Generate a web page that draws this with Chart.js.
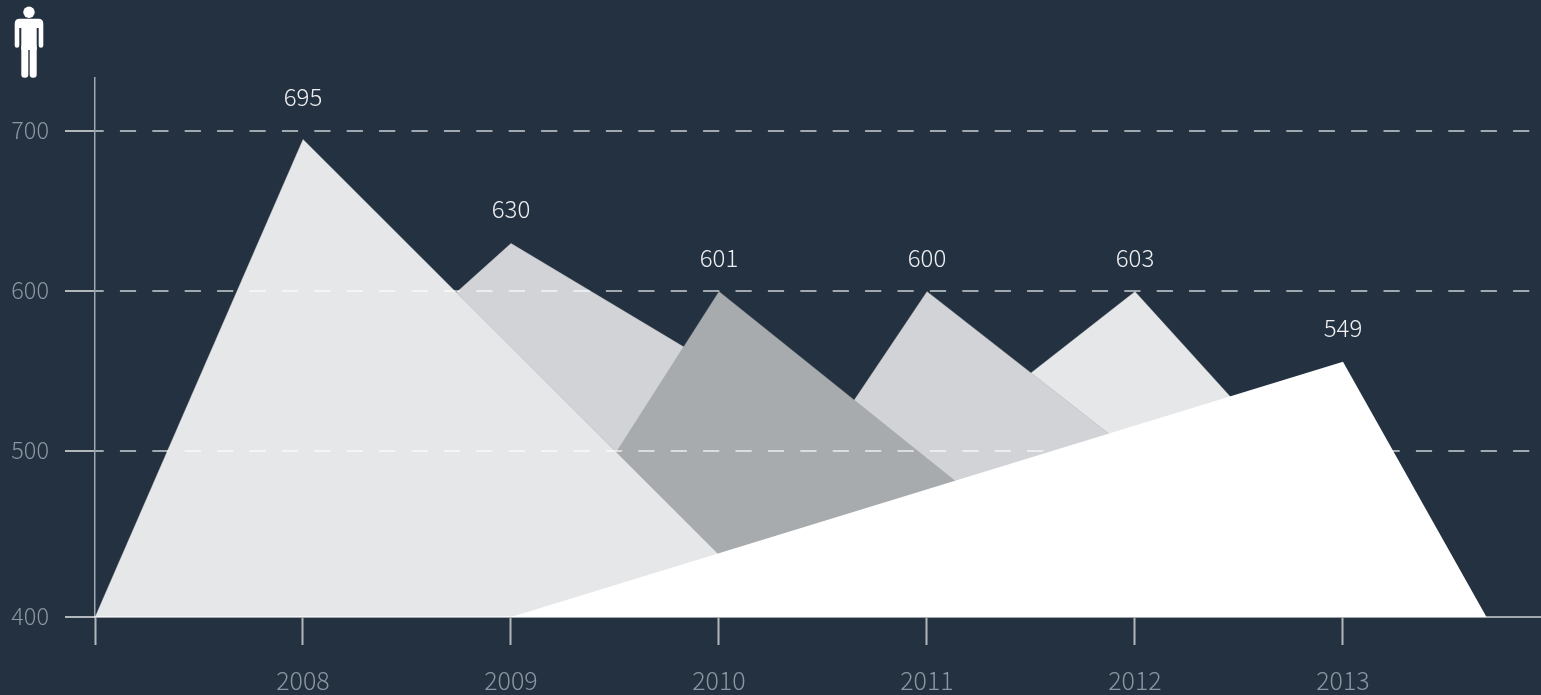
<!DOCTYPE html>
<html lang="en">
<head>
    <meta charset="UTF-8">
    <title>Triangles by year</title>
    <script src="https://cdn.jsdelivr.net/npm/chart.js"></script>
    <style>
        body {
            margin: 0;
            background-color: #233140;
            overflow: hidden;
        }

        #wrap {
            position: relative;
            width: 1541px;
            height: 695px;
        }

        /* Person pictogram above the value axis */
        #person {
            position: absolute;
            left: 0;
            top: 0;
        }
    </style>
</head>
<body>
    <div id="wrap">
        <canvas id="chart" width="1541" height="695"></canvas>
        <svg id="person" width="60" height="80" viewBox="0 0 60 80" fill="#fff">
            <circle cx="29" cy="12.3" r="5.7"/>
            <path d="M19.7 18.7H38.3Q43.3 18.7 43.3 23.7V45.4a2.3 2.3 0 0 1-4.6 0V28H36.7V50H21.3V28H19.3V45.4a2.3 2.3 0 0 1-4.6 0V23.7Q14.7 18.7 19.7 18.7z"/>
            <rect x="21.3" y="44" width="7" height="33.7" rx="3.2"/>
            <rect x="29.7" y="44" width="7" height="33.7" rx="3.2"/>
        </svg>
    </div>

    <script>
        const years = [2008, 2009, 2010, 2011, 2012, 2013];
        const peakValues = [695, 630, 600, 600, 600, 556];    // height the peak is drawn at
        const shownValues = [695, 630, 601, 600, 603, 549];   // number printed over the peak
        const baseStart = [2007, 2007, 2009, 2009.95, 2010, 2009];
        const baseEnd = [2010.3, 2012, 2011.95, 2013, 2013.42, 2013.69];
        const fillColors = ['#e6e7e9', '#d1d3d6', '#a7abae', '#d1d3d6', '#e6e7e9', '#ffffff'];
        const stacking = [1, 3, 2, 4, 5, 0];   // lower is drawn on top

        const axisFloor = 396.6;
        const axisCeil = 733.3;
        const axisStart = 2007;
        const axisEnd = 2013.952;
        const valueTicks = [axisFloor, 500, 600, 700];
        const valueTickLabels = ['400', '500', '600', '700'];

        const fontFamily = "'Noto Sans CJK SC Light', 'Noto Sans CJK SC', 'Open Sans', sans-serif";
        const mutedText = '#8c96a0';
        const lineColor = 'rgba(255, 255, 255, 0.58)';

        const triangles = years.map((year, i) => ({
            label: String(year),
            data: [
                { x: baseStart[i], y: axisFloor },
                { x: year, y: peakValues[i] },
                { x: baseEnd[i], y: axisFloor }
            ],
            backgroundColor: fillColors[i],
            borderColor: 'rgba(150, 155, 160, 0.5)',
            borderWidth: i === 5 ? 0 : 0.6,
            fill: 'start',
            tension: 0,
            pointRadius: 0,
            order: stacking[i]
        }));

        // Prints the values over each peak
        const peakLabels = {
            id: 'peakLabels',
            afterDraw(chart) {
                const { ctx, scales } = chart;
                ctx.save();
                ctx.font = '300 24px ' + fontFamily;
                ctx.fillStyle = '#eef0f2';
                ctx.textAlign = 'center';
                ctx.textBaseline = 'middle';
                years.forEach((year, i) => {
                    const gap = i === 0 ? 42 : 34;
                    ctx.fillText(String(shownValues[i]), scales.x.getPixelForValue(year),
                        scales.y.getPixelForValue(peakValues[i]) - gap);
                });
                ctx.restore();
            }
        };

        new Chart(document.getElementById('chart'), {
            type: 'line',
            data: { datasets: triangles },
            plugins: [peakLabels],
            options: {
                responsive: false,
                animation: false,
                layout: { padding: { top: 78, left: 0, right: 0, bottom: 0 } },
                plugins: {
                    legend: { display: false },
                    tooltip: { enabled: false }
                },
                scales: {
                    x: {
                        type: 'linear',
                        min: axisStart,
                        max: axisEnd,
                        afterBuildTicks(scale) {
                            scale.ticks = [axisStart].concat(years).map(value => ({ value }));
                        },
                        afterFit(scale) {
                            scale.height = 78;
                        },
                        border: { color: lineColor, width: 2, z: 1 },
                        grid: {
                            drawOnChartArea: false,
                            tickLength: 28,
                            tickWidth: 2,
                            tickColor: 'rgba(255, 255, 255, 0.65)',
                            z: 1
                        },
                        ticks: {
                            autoSkip: false,
                            maxRotation: 0,
                            padding: 20,
                            color: mutedText,
                            font: { family: fontFamily, size: 25, weight: '300' },
                            callback: value => years.includes(value) ? String(value) : ''
                        }
                    },
                    y: {
                        min: axisFloor,
                        max: axisCeil,
                        afterBuildTicks(scale) {
                            scale.ticks = valueTicks.map(value => ({ value }));
                        },
                        afterFit(scale) {
                            scale.width = 95;
                        },
                        border: {
                            color: lineColor,
                            width: 1.5,
                            dash: [16.2, 16.2],
                            dashOffset: 8,
                            z: 1
                        },
                        grid: {
                            color: ctx => ctx.tick && ctx.tick.value === axisFloor ? 'transparent' : lineColor,
                            lineWidth: 2,
                            tickColor: 'rgba(255, 255, 255, 0.65)',
                            tickBorderDash: [],
                            tickLength: 30,
                            tickWidth: 2,
                            z: 1
                        },
                        ticks: {
                            padding: 16,
                            labelOffset: -1,
                            color: mutedText,
                            font: { family: fontFamily, size: 23.5, weight: '300' },
                            callback: value => valueTickLabels[valueTicks.indexOf(value)]
                        }
                    }
                }
            }
        });
    </script>
</body>
</html>
